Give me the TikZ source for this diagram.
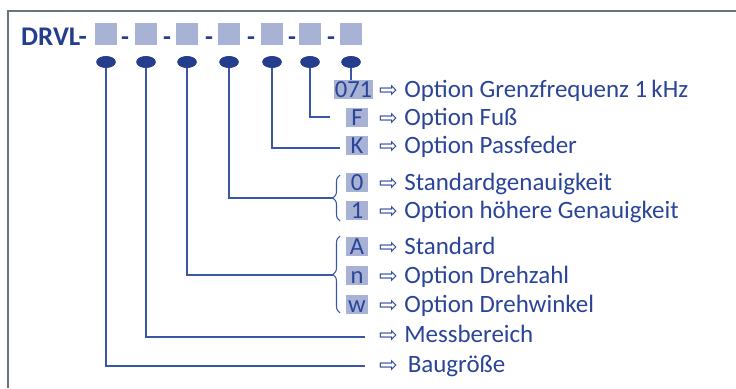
\documentclass[tikz,border=0pt]{standalone}
\usepackage{fontspec}
\setmainfont{Carlito}
\newfontfamily\symfont{DejaVu Sans}
\usetikzlibrary{positioning,shapes.geometric,calc,decorations.pathreplacing}
\definecolor{navy}{RGB}{36,61,141}
\definecolor{drvblue}{RGB}{42,68,152}
\definecolor{wire}{RGB}{58,86,164}
\definecolor{slotfill}{RGB}{168,178,212}
\definecolor{framegray}{RGB}{105,115,125}
\newcommand{\optarr}{{\symfont\fontsize{19}{19}\selectfont ⇨}\hspace{5.5pt}}
\tikzset{
  slot/.style={fill=slotfill,minimum size=18.7pt,inner sep=0pt},
  pin/.style={ellipse,fill=navy,minimum width=16.5pt,minimum height=10pt,inner sep=0pt},
  code/.style={fill=slotfill,text=drvblue,inner xsep=1pt,inner ysep=1.6pt,
    minimum width=18.7pt,text height=13pt,text depth=0.3pt,anchor=base,
    font=\fontsize{21}{21}\selectfont},
  desc/.style={anchor=base west,text=drvblue,inner sep=0pt,font=\fontsize{21.3}{21.3}\selectfont},
  lead/.style={draw=wire,line width=0.9pt},
  bracket/.style={lead,decorate,decoration={brace,amplitude=6pt}},
}
\begin{document}
\begin{tikzpicture}[x=0.03cm,y=-0.03cm]
  \useasboundingbox (0,0) rectangle (736,388);
  \draw[framegray,line width=1.6pt] (736,11) -- (8,11) -- (8,388);
  % type key
  \node[anchor=base west,inner sep=0pt,text=navy,font=\fontsize{23}{23}\selectfont\bfseries] (drvl) at (21,45) {DRVL-};
  \foreach \x [count=\i] in {106,146,187,229,272,310,351} {
    \node[slot] (s\i) at (\x,34) {};
    \node[pin] (e\i) at (\x,62) {};
  }
  \foreach \x in {125,167,209,251,292,331}
    \node[anchor=base,inner sep=0pt,text=navy,font=\fontsize{22}{22}\selectfont\bfseries] at (\x,45) {-};
  % options
  \node[code,inner xsep=0.5pt] (c071) at (353.5,97) {071};
  \node[code] (cF) at (357,125) {F};
  \node[code] (cK) at (357,153) {K};
  \node[code] (c0) at (357,190) {0};
  \node[code] (c1) at (357,218) {1};
  \node[code] (cA) at (357,254) {A};
  \node[code] (cn) at (357,283) {n};
  \node[code] (cw) at (357,312) {w};
  \node[desc] (t071) at (379,97) {\optarr Option Grenzfrequenz 1\,kHz};
  \node[desc] (tF) at (379,125) {\optarr Option Fuß};
  \node[desc] (tK) at (379,153) {\optarr Option Passfeder};
  \node[desc] (t0) at (379,190) {\optarr Standardgenauigkeit};
  \node[desc] (t1) at (379,218) {\optarr Option höhere Genauigkeit};
  \node[desc] (tA) at (379,254) {\optarr Standard};
  \node[desc] (tn) at (379,283) {\optarr Option Drehzahl};
  \node[desc] (tw) at (379,312) {\optarr Option Drehwinkel};
  \node[desc] (tM) at (379,342) {\optarr Messbereich};
  \node[desc] (tB) at (379,372) {\optarr\hspace{3pt}Baugröße};
  % leads
  \coordinate (endF) at (330,117);
  \coordinate (endK) at (340,148);
  \coordinate (tip0) at (333,198);
  \coordinate (tipA) at (333,275);
  \coordinate (endM) at (365,337);
  \coordinate (endB) at (365,366);
  \draw[lead] (e7.center) -- (e7.center |- c071.north);
  \draw[lead] (e6.center) |- (endF);
  \draw[lead] (e5.center) |- (endK);
  \draw[lead] (e4.center) |- (tip0);
  \draw[lead] (e3.center) |- (tipA);
  \draw[lead] (e2.center) |- (endM);
  \draw[lead] (e1.center) |- (endB);
  \draw[bracket] (340,221) -- (340,175);
  \draw[bracket] (340,313) -- (340,236);
  \foreach \i in {1,...,7} \node[pin] at (e\i) {};
\end{tikzpicture}
\end{document}
